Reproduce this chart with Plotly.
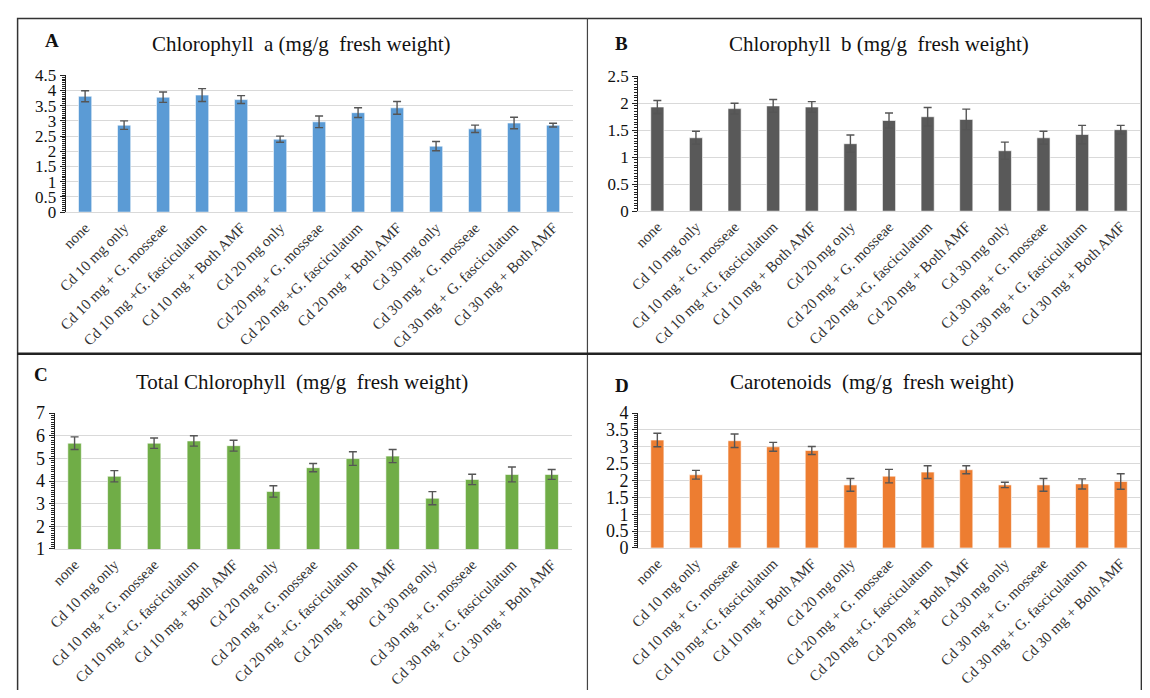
import plotly.graph_objects as go

categories = ["none", "Cd 10 mg only", "Cd 10 mg + G. mosseae", "Cd 10 mg +G. fasciculatum",
              "Cd 10 mg + Both AMF", "Cd 20 mg only", "Cd 20 mg + G. mosseae",
              "Cd 20 mg +G. fasciculatum", "Cd 20 mg + Both AMF", "Cd 30 mg only",
              "Cd 30 mg + G. mosseae", "Cd 30 mg + G. fasciculatum", "Cd 30 mg + Both AMF"]

chl_a = [3.81, 2.86, 3.78, 3.85, 3.70, 2.40, 2.97, 3.27, 3.43, 2.17, 2.74, 2.93, 2.86]
chl_a_err = [0.18, 0.14, 0.17, 0.21, 0.13, 0.10, 0.19, 0.16, 0.21, 0.15, 0.12, 0.19, 0.06]

chl_b = [1.93, 1.36, 1.90, 1.95, 1.93, 1.25, 1.68, 1.75, 1.70, 1.12, 1.36, 1.42, 1.51]
chl_b_err = [0.12, 0.12, 0.10, 0.12, 0.10, 0.16, 0.14, 0.17, 0.19, 0.16, 0.12, 0.17, 0.08]

chl_total = [5.67, 4.21, 5.67, 5.77, 5.56, 3.54, 4.59, 4.99, 5.10, 3.24, 4.07, 4.29, 4.29]
chl_total_err = [0.28, 0.25, 0.23, 0.23, 0.24, 0.25, 0.18, 0.30, 0.29, 0.29, 0.23, 0.33, 0.22]

carot = [3.20, 2.17, 3.18, 3.00, 2.89, 1.87, 2.13, 2.25, 2.32, 1.87, 1.87, 1.90, 1.97]
carot_err = [0.20, 0.13, 0.20, 0.13, 0.12, 0.19, 0.20, 0.19, 0.12, 0.08, 0.19, 0.15, 0.23]

titles = ["Chlorophyll\u00a0 a (mg/g\u00a0 fresh weight)",
          "Chlorophyll\u00a0 b (mg/g\u00a0 fresh weight)",
          "Total Chlorophyll\u00a0 (mg/g\u00a0 fresh weight)",
          "Carotenoids\u00a0 (mg/g\u00a0 fresh weight)"]
letters = ["A", "B", "C", "D"]
colors = ["#5B9BD5", "#595959", "#70AD47", "#ED7D31"]

SERIF = "Times New Roman, Liberation Serif, serif"

# figure sized so that, with the page's 8px body margin, it fits the window exactly
OFF = 8
W, H = 1150 - 2 * OFF, 698 - 2 * OFF
def px(x):
    return (x - OFF) / W
def py(y):
    return 1 - (y - OFF) / H

panels = [
    dict(vals=chl_a, err=chl_a_err, xd=(57, 568), yd=(208, 67), rng=[0, 4.5], dt=0.5, mdt=0.0625, fs=17,
         title_pos=(295, 35), letter_pos=(43, 31)),
    dict(vals=chl_b, err=chl_b_err, xd=(634, 1140), yd=(207, 68), rng=[0, 2.5], dt=0.5, mdt=0.05, fs=17,
         title_pos=(877, 35), letter_pos=(617, 34)),
    dict(vals=chl_total, err=chl_total_err, xd=(46, 567), yd=(555, 415), rng=[1, 7], dt=1, mdt=0.1, fs=18,
         title_pos=(295, 383), letter_pos=(32, 375)),
    dict(vals=carot, err=carot_err, xd=(634, 1140), yd=(554, 415), rng=[0, 4], dt=0.5, mdt=0.0625, fs=18,
         title_pos=(870, 383), letter_pos=(618, 387)),
]

fig = go.Figure()
layout = dict(width=W, height=H, margin=dict(l=0, r=0, t=0, b=0),
              paper_bgcolor="white", plot_bgcolor="white", showlegend=False,
              bargap=0.66, font=dict(family=SERIF, color="#222"))
annotations = []
for i, p in enumerate(panels):
    n = "" if i == 0 else str(i + 1)
    fig.add_trace(go.Bar(
        x=categories, y=p["vals"], xaxis="x" + n, yaxis="y" + n,
        marker=dict(color=colors[i], line=dict(color="rgba(255,255,255,0.6)", width=1)),
        error_y=dict(type="data", array=p["err"], color="#555555", thickness=1.4, width=4),
    ))
    layout["xaxis" + n] = dict(
        domain=[px(p["xd"][0]), px(p["xd"][1])], anchor="y" + n,
        type="category", tickangle=-45, showgrid=False,
        showline=True, linecolor="#d9d9d9", linewidth=1, ticks="",
        tickfont=dict(family=SERIF, size=15, color="#333"),
        range=[-0.5, 12.5], fixedrange=True,
    )
    layout["yaxis" + n] = dict(
        domain=[py(p["yd"][0]), py(p["yd"][1])], anchor="x" + n,
        range=p["rng"], dtick=p["dt"], tick0=0,
        showgrid=True, gridcolor="#d9d9d9", gridwidth=1.2,
        showline=True, linecolor="#222", linewidth=1,
        ticks="outside", ticklen=5, tickcolor="#222", tickwidth=1,
        minor=dict(dtick=p["mdt"], ticks="outside", ticklen=3, tickcolor="#222", showgrid=False),
        tickfont=dict(family=SERIF, size=p["fs"], color="#111"),
        zeroline=False, fixedrange=True,
    )
    annotations.append(dict(text=titles[i], x=px(p["title_pos"][0]), y=py(p["title_pos"][1]),
                            xref="paper", yref="paper", showarrow=False, xanchor="center", yanchor="middle",
                            font=dict(family=SERIF, size=21, color="#111")))
    annotations.append(dict(text="<b>" + letters[i] + "</b>", x=px(p["letter_pos"][0]), y=py(p["letter_pos"][1]),
                            xref="paper", yref="paper", showarrow=False, xanchor="center", yanchor="middle",
                            font=dict(family=SERIF, size=19, color="#111")))

shapes = [
    dict(type="rect", xref="paper", yref="paper", x0=px(8.6), x1=px(1141.4), y0=-0.05, y1=py(8.6),
         line=dict(color="#333", width=1.5)),
    dict(type="line", xref="paper", yref="paper", x0=px(583), x1=px(583), y0=-0.05, y1=py(8),
         line=dict(color="#444", width=1.2)),
    dict(type="line", xref="paper", yref="paper", x0=px(8), x1=px(1142), y0=py(354), y1=py(354),
         line=dict(color="#222", width=2.5)),
]
layout["annotations"] = annotations
layout["shapes"] = shapes
fig.update_layout(**layout)
fig.write_html("out.html")
